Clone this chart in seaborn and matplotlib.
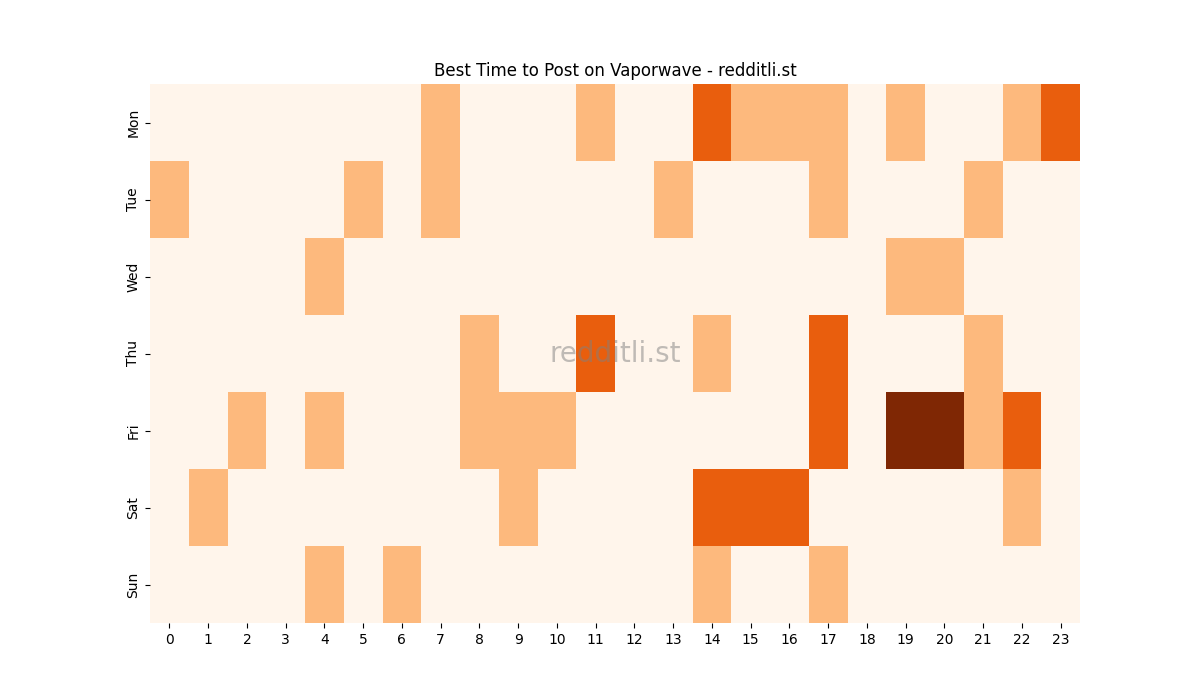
import numpy as np
import pandas as pd
import seaborn as sns
from matplotlib import pyplot as plt

days = ['Mon', 'Tue', 'Wed', 'Thu', 'Fri', 'Sat', 'Sun']
hours = list(range(24))

# score per hour, one list per day
mon = [0, 0, 0, 0, 0, 0, 0, 1, 0, 0, 0, 1, 0, 0, 2, 1, 1, 1, 0, 1, 0, 0, 1, 2]
tue = [1, 0, 0, 0, 0, 1, 0, 1, 0, 0, 0, 0, 0, 1, 0, 0, 0, 1, 0, 0, 0, 1, 0, 0]
wed = [0, 0, 0, 0, 1, 0, 0, 0, 0, 0, 0, 0, 0, 0, 0, 0, 0, 0, 0, 1, 1, 0, 0, 0]
thu = [0, 0, 0, 0, 0, 0, 0, 0, 1, 0, 0, 2, 0, 0, 1, 0, 0, 2, 0, 0, 0, 1, 0, 0]
fri = [0, 0, 1, 0, 1, 0, 0, 0, 1, 1, 1, 0, 0, 0, 0, 0, 0, 2, 0, 3, 3, 1, 2, 0]
sat = [0, 1, 0, 0, 0, 0, 0, 0, 0, 1, 0, 0, 0, 0, 2, 2, 2, 0, 0, 0, 0, 0, 1, 0]
sun = [0, 0, 0, 0, 1, 0, 1, 0, 0, 0, 0, 0, 0, 0, 1, 0, 0, 1, 0, 0, 0, 0, 0, 0]

df = pd.DataFrame([mon, tue, wed, thu, fri, sat, sun], index=days, columns=hours)

fig, ax = plt.subplots(figsize=(12, 7), dpi=100)
sns.heatmap(df, cmap='Oranges', cbar=False, ax=ax)
ax.set_title('Best Time to Post on Vaporwave - redditli.st')
ax.set(xlabel=None, ylabel=None)
ax.tick_params(axis='x', rotation=0)
ax.tick_params(axis='y', rotation=90)
ax.text(0.5, 0.5, 'redditli.st', transform=ax.transAxes, ha='center', va='center',
        fontsize=20, color='gray', alpha=0.5)
plt.savefig('out.png')
